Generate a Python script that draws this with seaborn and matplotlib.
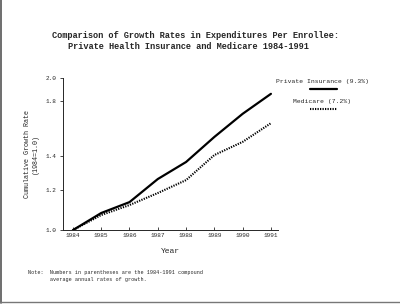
import matplotlib.pyplot as plt
from matplotlib.lines import Line2D
import numpy as np
import pandas as pd
import seaborn as sns

sns.set_style('ticks')
plt.rcParams['font.family'] = ['Liberation Mono', 'DejaVu Sans Mono']

# Data (cumulative growth, 1984 = 1.0)
years = [1984, 1985, 1986, 1987, 1988, 1989, 1990, 1991]
private_insurance = [1.00, 1.081, 1.136, 1.262, 1.364, 1.529, 1.699, 1.861]
medicare = [1.00, 1.071, 1.121, 1.184, 1.256, 1.408, 1.495, 1.628]
y_ticks = [1.0, 1.2, 1.4, 1.8, 2.0]

df = pd.DataFrame({'Year': years,
                   'Private Insurance': private_insurance,
                   'Medicare': medicare})

fig = plt.figure(figsize=(4.0, 3.06), dpi=100)
ax = fig.add_axes([0.1575, 0.248, 0.5375, 0.497])

sns.lineplot(data=df, x='Year', y='Private Insurance', ax=ax,
             color='black', linewidth=1.6)
sns.lineplot(data=df, x='Year', y='Medicare', ax=ax,
             color='black', linewidth=1.5, linestyle=(0, (0.6, 0.6)))

ax.set_yscale('log')
ax.set_ylim(1.0, 2.0)
ax.set_xlim(1983.65, 1991.25)
ax.set_yticks(y_ticks)
ax.set_yticklabels([f'{v:.1f}' for v in y_ticks])
ax.yaxis.set_minor_locator(plt.NullLocator())
ax.set_xticks(years)
ax.set_xticklabels([str(y) for y in years])
ax.tick_params(axis='both', labelsize=4.4, length=2.5, width=0.6, pad=2)
ax.tick_params(axis='x', direction='in')

ax.set_xlabel('Year', fontsize=5.8, labelpad=7)
ax.set_ylabel('Cumulative Growth Rate\n(1984=1.0)', fontsize=4.9, labelpad=5)

for side in ['top', 'right']:
    ax.spines[side].set_visible(False)
for side in ['left', 'bottom']:
    ax.spines[side].set_linewidth(0.7)

# Title
fig.text(0.4875, 0.885, 'Comparison of Growth Rates in Expenditures Per Enrollee:',
         ha='center', va='center', fontsize=6.2, fontweight='bold')
fig.text(0.47, 0.848, 'Private Health Insurance and Medicare 1984-1991',
         ha='center', va='center', fontsize=6.2, fontweight='bold')

# Custom legend (label above sample line)
fig.text(0.8075, 0.735, 'Private Insurance (9.3%)', ha='center', va='center', fontsize=4.6)
fig.add_artist(Line2D([0.775, 0.843], [0.709, 0.709], color='black', lw=1.6,
                      transform=fig.transFigure))
fig.text(0.805, 0.667, 'Medicare (7.2%)', ha='center', va='center', fontsize=4.6)
fig.add_artist(Line2D([0.775, 0.843], [0.644, 0.644], color='black', lw=1.5,
                      linestyle=(0, (0.6, 0.6)), transform=fig.transFigure))

# Note
fig.text(0.07, 0.098, 'Note:  Numbers in parentheses are the 1984-1991 compound\n'
         '       average annual rates of growth.',
         ha='left', va='center', fontsize=3.7, linespacing=1.3)

# Scan border
fig.add_artist(Line2D([0.003, 0.003], [0.01, 1.0], color='#555555', lw=1.2,
                      transform=fig.transFigure))
fig.add_artist(Line2D([0.0, 1.0], [0.012, 0.012], color='#777777', lw=1.0,
                      transform=fig.transFigure))

fig.savefig('out.png', dpi=100)
